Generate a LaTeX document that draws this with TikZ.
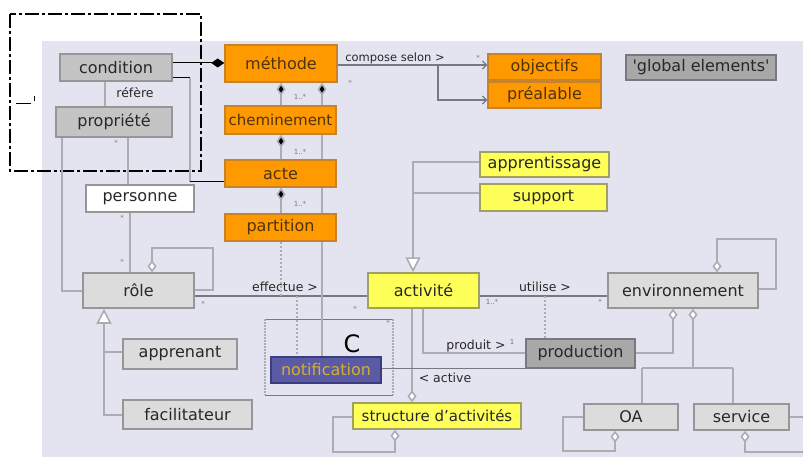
\documentclass[tikz,border=0pt]{standalone}
\usepackage{fontspec}
\setmainfont{DejaVu Sans}
\usetikzlibrary{arrows.meta}
\pgfdeclarelayer{bg}
\pgfdeclarelayer{lines}
\pgfsetlayers{bg,lines,main}
\definecolor{panel}{RGB}{228,228,240}
\definecolor{orfill}{RGB}{255,153,0}
\definecolor{ordraw}{RGB}{200,130,40}
\definecolor{yefill}{RGB}{255,255,90}
\definecolor{yedraw}{RGB}{160,160,96}
\definecolor{grfill}{RGB}{196,196,196}
\definecolor{ltfill}{RGB}{220,220,220}
\definecolor{dkfill}{RGB}{168,168,168}
\definecolor{bxdraw}{RGB}{150,150,150}
\definecolor{txt}{RGB}{40,40,40}
\definecolor{ortxt}{RGB}{80,50,10}
\definecolor{nofill}{RGB}{90,90,165}
\definecolor{nodraw}{RGB}{60,60,128}
\definecolor{notxt}{RGB}{212,176,48}
\definecolor{lncol}{RGB}{172,172,180}
\definecolor{dkln}{RGB}{120,120,128}
\newcommand\bxfont{\fontsize{16}{16}\selectfont}
\newcommand\lbfont{\fontsize{12.5}{12.5}\selectfont}
\newcommand\mkfont{\fontsize{7}{7}\selectfont}
\begin{document}
\begin{tikzpicture}[x=1pt,y=-1pt,
  box/.style={draw=bxdraw, line width=1.5pt, inner sep=0pt, font=\bxfont, text=txt},
  orbox/.style={box, fill=orfill, draw=ordraw, text=ortxt},
  yebox/.style={box, fill=yefill, draw=yedraw},
  grbox/.style={box, fill=grfill},
  ltbox/.style={box, fill=ltfill},
  dkbox/.style={box, fill=dkfill, draw=dkln},
  wtbox/.style={box, fill=white},
  conn/.style={draw=lncol, line width=1.6pt},
  dk/.style={draw=dkln, line width=1.2pt},
  lbl/.style={font=\lbfont, text=txt, inner sep=1pt},
  mk/.style={font=\mkfont, text=dkln, inner sep=0pt}
]
\useasboundingbox (0,0) rectangle (803,457);
\begin{pgfonlayer}{bg}
\fill[white] (0,0) rectangle (803,457);
\fill[panel] (42,41) rectangle (803,457);
\end{pgfonlayer}

% nodes
\node[grbox, minimum width=112pt, minimum height=27pt] (condition) at (116,67.5) {condition};
\node[grbox, minimum width=116pt, minimum height=30pt] (propriete) at (114,122) {propriété};
\node[orbox, minimum width=112pt, minimum height=37pt] (methode) at (281,63.5) {méthode};
\node[orbox, minimum width=111pt, minimum height=28pt, font=\fontsize{15}{15}\selectfont] (chem) at (280.5,120) {cheminement};
\node[orbox, minimum width=111pt, minimum height=27pt] (acte) at (280.5,173.5) {acte};
\node[orbox, minimum width=111pt, minimum height=27pt] (partition) at (280.5,227.5) {partition};
\node[orbox, minimum width=113pt, minimum height=26pt] (objectifs) at (544.5,67) {objectifs};
\node[orbox, minimum width=113pt, minimum height=26pt] (prealable) at (544.5,95) {préalable};
\node[dkbox, minimum width=150pt, minimum height=25pt] (global) at (701,67.5) {\textquotesingle global elements\textquotesingle};
\node[yebox, minimum width=129pt, minimum height=25pt] (apprentissage) at (544.5,164.5) {apprentissage};
\node[yebox, minimum width=127pt, minimum height=27pt] (support) at (543.5,197.5) {support};
\node[wtbox, minimum width=108pt, minimum height=27pt] (personne) at (140,198.5) {personne};
\node[ltbox, minimum width=111pt, minimum height=35pt] (role) at (138.5,290.5) {rôle};
\node[ltbox, minimum width=114pt, minimum height=30pt] (apprenant) at (180,354) {apprenant};
\node[ltbox, minimum width=129pt, minimum height=29pt] (facilitateur) at (187.5,414.5) {facilitateur};
\node[yebox, minimum width=111pt, minimum height=35pt] (activite) at (423.5,290.5) {activité};
\node[ltbox, minimum width=150pt, minimum height=35pt] (environnement) at (683,290.5) {environnement};
\node[dkbox, minimum width=109pt, minimum height=29pt] (production) at (580.5,353.5) {production};
\node[box, fill=nofill, draw=nodraw, text=notxt, minimum width=110pt, minimum height=26pt] (notification) at (326,370) {notification};
\node[yebox, minimum width=168pt, minimum height=26pt, font=\fontsize{15}{15}\selectfont] (structure) at (437,416) {structure d'activités};
\node[ltbox, minimum width=94pt, minimum height=26pt] (OA) at (631,417) {OA};
\node[ltbox, minimum width=95pt, minimum height=26pt] (service) at (741.5,417) {service};
\node[font=\fontsize{24}{24}\selectfont, text=black, inner sep=0pt] (clabel) at (352,344) {C};

\begin{pgfonlayer}{lines}
% dash-dot frame
\draw[black, line width=2.4pt, dash pattern=on 14pt off 3pt on 3pt off 3pt] (10,14) rectangle (201,171);
\draw[black, line width=1pt] (16,104) -- (31,104);
\draw[black, line width=1pt] (34,96) -- (34,101);
% C box
\draw[dkln, line width=1pt] (265,319) -- (393,319);
\draw[dkln, line width=1pt] (265,395) -- (393,395);
\draw[lncol, line width=1.5pt, dash pattern=on 1.5pt off 1.5pt] (265,319) -- (265,395);
\draw[lncol, line width=1.5pt, dash pattern=on 1.5pt off 1.5pt] (393,319) -- (393,395);

% condition -> methode
\draw[black, line width=1pt, -{Diamond[fill=black, length=13pt, width=9pt]}] (condition.east |- 0,63) -- (methode.west |- 0,63);
% condition -> acte
\draw[conn] (190,78) -- (190,182);
\draw[black, line width=1pt] (condition.east |- 0,78) -- (190,78);
\draw[black, line width=1pt] (190,182) -- (acte.west |- 0,182);
% refere
\draw[conn] (condition.south -| 105,0) -- (propriete.north -| 105,0);
\node[lbl] (refere) at (135,93) {réfère};
% propriete -> role
\draw[conn] (propriete.south -| 62,0) -- (62,291) -- (role.west |- 0,291);
\draw[conn] (propriete.south -| 128,0) -- (personne.north -| 128,0);
\draw[conn] (personne.south -| 130,0) -- (role.north -| 130,0);
% role self
\draw[conn, {Diamond[fill=white, length=12pt, width=9pt]}-] (role.north -| 152,0) -- (152,248) -- (213,248) -- (213,290) -- (role.east |- 0,290);
% role generalization
\draw[conn, -{Triangle[fill=white, length=15pt, width=15pt]}] (apprenant.west |- 0,352) -- (104,352) -- (role.south -| 104,0);
\draw[conn] (facilitateur.west |- 0,415) -- (104,415) -- (104,352);
% effectue
\draw[dk] (role.east |- 0,296) -- (activite.west |- 0,296);
\node[lbl] (effectue) at (285,287) {effectue >};
% compositions of methode
\draw[conn, {Diamond[fill=black, length=13pt, width=9pt]}-] (methode.south -| 281,0) -- (chem.north -| 281,0);
\draw[conn, {Diamond[fill=black, length=13pt, width=9pt]}-] (methode.south -| 322,0) -- (notification.north -| 322,0);
\draw[conn, {Diamond[fill=black, length=13pt, width=9pt]}-] (chem.south -| 281,0) -- (acte.north -| 281,0);
\draw[conn, {Diamond[fill=black, length=13pt, width=9pt]}-] (acte.south -| 281,0) -- (partition.north -| 281,0);
\draw[conn, dash pattern=on 2pt off 2pt] (partition.south -| 281,0) -- (281,296);
\draw[conn, dash pattern=on 2pt off 2pt] (297,296) -- (notification.north -| 297,0);
% compose selon
\draw[dk] (methode.east |- 0,65) -- (438,65);
\draw[dk, -{Straight Barb[length=4pt]}] (438,65) -- (objectifs.west |- 0,65);
\draw[dk, -{Straight Barb[length=4pt]}] (438,65) -- (438,100) -- (prealable.west |- 0,100);
\node[lbl, font=\fontsize{11.5}{11.5}\selectfont] (compose) at (395,58) {compose selon >};
% apprentissage / support -> activite
\draw[conn, -{Triangle[fill=white, length=15pt, width=15pt]}] (apprentissage.west |- 0,162) -- (413,162) -- (activite.north -| 413,0);
\draw[conn] (support.west |- 0,193) -- (413,193);
% utilise
\draw[dk] (activite.east |- 0,296) -- (environnement.west |- 0,296);
\node[lbl] (utilise) at (545,287) {utilise >};
\draw[conn, dash pattern=on 2pt off 2pt] (545,296) -- (production.north -| 545,0);
% produit
\draw[conn] (activite.south -| 423,0) -- (423,353) -- (production.west |- 0,353);
\node[lbl] (produit) at (476,346) {produit >};
% active
\draw[conn, -{Diamond[fill=white, length=12pt, width=9pt]}] (activite.south -| 412,0) -- (structure.north -| 412,0);
\node[lbl] (active) at (445,378) {< active};
% notification -> production
\draw[dk] (notification.east |- production.south) -- (production.south);
% environnement self
\draw[conn, {Diamond[fill=white, length=12pt, width=9pt]}-] (environnement.north -| 717,0) -- (717,239) -- (776,239) -- (776,289) -- (environnement.east |- 0,289);
% environnement -> production
\draw[conn, {Diamond[fill=white, length=12pt, width=9pt]}-] (environnement.south -| 673,0) -- (673,353) -- (production.east |- 0,353);
% environnement -> OA, service
\draw[conn, {Diamond[fill=white, length=12pt, width=9pt]}-] (environnement.south -| 693,0) -- (693,368);
\draw[conn] (642,368) -- (733,368);
\draw[conn] (642,368) -- (OA.north -| 642,0);
\draw[conn] (733,368) -- (service.north -| 733,0);
% OA self
\draw[conn, {Diamond[fill=white, length=12pt, width=9pt]}-] (OA.south -| 615,0) -- (615,451) -- (563,451) -- (563,417) -- (OA.west);
% service self
\draw[conn, {Diamond[fill=white, length=12pt, width=9pt]}-] (service.south -| 745,0) -- (745,452) -- (803,452);
\draw[conn] (service.east) -- (803,417);
% structure self
\draw[conn, {Diamond[fill=white, length=12pt, width=9pt]}-] (structure.south -| 395,0) -- (395,452) -- (333,452) -- (333,417) -- (structure.west |- 0,417);
\end{pgfonlayer}

% multiplicity marks
\node[mk] at (300,97) {1..*};
\node[mk] at (300,152) {1..*};
\node[mk] at (300,204) {1..*};
\node[mk] at (350,83) {*};
\node[mk] at (478,58) {*};
\node[mk] at (116,143) {*};
\node[mk] at (116,173) {*};
\node[mk] at (122,218) {*};
\node[mk] at (122,262) {*};
\node[mk] at (203,304) {*};
\node[mk] at (355,309) {*};
\node[mk] at (492,302) {1..*};
\node[mk] at (600,302) {*};
\node[mk] at (512,342) {1};
\node[mk] at (388,323) {*};
\end{tikzpicture}
\end{document}
